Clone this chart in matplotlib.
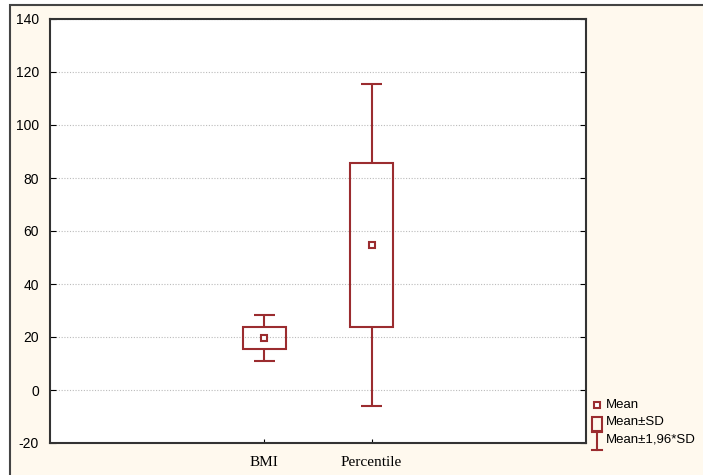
import matplotlib.pyplot as plt
from matplotlib.patches import Rectangle
from matplotlib.lines import Line2D

plt.rcParams["font.family"] = ["Liberation Sans", "DejaVu Sans"]
plt.rcParams["axes.unicode_minus"] = False

# Dados
categories = ["BMI", "Percentile"]
means = [19.6, 54.6]
sds = [4.3, 31.0]
sd196 = [8.6, 60.8]

red = "#9b2c2f"
cream = "#fff9ee"

fig = plt.figure(figsize=(7.03, 4.75), dpi=100, facecolor="white")
fig.patches.append(Rectangle((10 / 703, -0.1), 1.2, 470 / 475 + 0.1, transform=fig.transFigure,
                             facecolor=cream, edgecolor="#444444", linewidth=1.5, zorder=-5))

ax = fig.add_axes([50 / 703, 32 / 475, 536 / 703, 424 / 475])
ax.set_facecolor("white")
xs = [i + 2 for i in range(len(categories))]

for x, m, s, s2 in zip(xs, means, sds, sd196):
    ax.add_patch(Rectangle((x - 0.2, m - s), 0.4, 2 * s, facecolor="none", edgecolor=red, linewidth=1.5, zorder=3))
    ax.vlines(x, m + s, m + s2, color=red, linewidth=1.5, zorder=3)
    ax.vlines(x, m - s2, m - s, color=red, linewidth=1.5, zorder=3)
    ax.hlines([m + s2, m - s2], x - 0.1, x + 0.1, color=red, linewidth=1.5, zorder=3)
    ax.plot(x, m, marker="s", markersize=5, markerfacecolor="white", markeredgecolor=red, markeredgewidth=1.5, zorder=4)

ax.set_xlim(0, 5)
ax.set_ylim(-20, 140)
ax.set_yticks(range(-20, 141, 20))
ax.set_xticks(xs)
ax.set_xticklabels(categories, fontfamily="Liberation Serif", fontsize=11)
ax.tick_params(axis="y", direction="in", length=4, labelsize=10, right=True, pad=8)
ax.tick_params(axis="x", direction="in", length=3, pad=9)
ax.grid(axis="y", linestyle=(0, (1, 1.5)), color="#bbbbbb", linewidth=0.8)
for sp in ax.spines.values():
    sp.set_color("#333333")
    sp.set_linewidth(1.5)

# Legenda desenhada à mão, no estilo Statistica
lx = 597 / 703
fig.add_artist(Line2D([lx], [1 - 405 / 475], marker="s", markersize=5, markerfacecolor="white",
                      markeredgecolor=red, markeredgewidth=1.5, transform=fig.transFigure))
fig.patches.append(Rectangle((592 / 703, 1 - 431 / 475), 10 / 703, 14 / 475, transform=fig.transFigure,
                             facecolor="none", edgecolor=red, linewidth=1.5))
fig.add_artist(Line2D([lx, lx], [1 - 432 / 475, 1 - 450 / 475], color=red, linewidth=1.5, transform=fig.transFigure))
fig.add_artist(Line2D([592 / 703, 602 / 703], [1 - 432 / 475] * 2, color=red, linewidth=1.5, transform=fig.transFigure))
fig.add_artist(Line2D([592 / 703, 602 / 703], [1 - 450 / 475] * 2, color=red, linewidth=1.5, transform=fig.transFigure))
for y, t in [(405, "Mean"), (422, "Mean±SD"), (440, "Mean±1,96*SD")]:
    fig.text(606 / 703, 1 - y / 475, t, fontsize=9.5, va="center", ha="left")

plt.savefig("out.png", dpi=100, facecolor=fig.get_facecolor())
